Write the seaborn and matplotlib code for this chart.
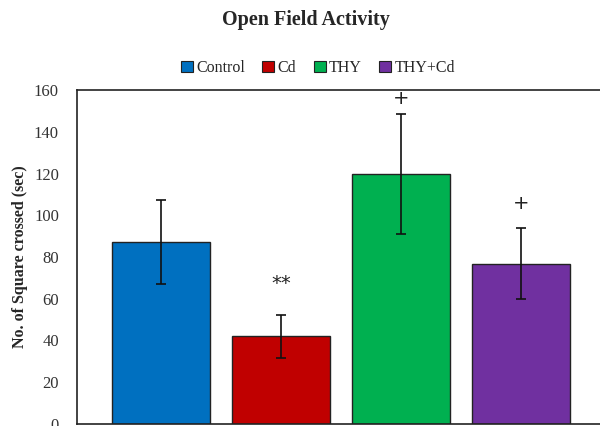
import matplotlib
matplotlib.use("Agg")
import matplotlib.pyplot as plt
import seaborn as sns
import pandas as pd
from matplotlib.patches import Patch

groups = ["Control", "Cd", "THY", "THY+Cd"]
means = [87.3, 42.0, 119.7, 76.8]
errors = [20.0, 10.3, 28.6, 17.0]
marks = ["", "**", "+", "+"]
mark_levels = [None, 67.5, 155.7, 105.4]
colors = ["#0070C0", "#C00000", "#00B050", "#7030A0"]
y_ticks = [0, 20, 40, 60, 80, 100, 120, 140, 160]

sns.set_theme(style="white")
plt.rcParams["font.family"] = ["Liberation Serif", "DejaVu Serif"]

df = pd.DataFrame({"group": groups, "value": means})

fig = plt.figure(figsize=(6.0, 4.26), dpi=100)
ax = fig.add_axes([77 / 600, 2 / 426, (612 - 77) / 600, (424 - 90) / 426])

sns.barplot(data=df, x="group", y="value", hue="group", palette=colors,
            order=groups, hue_order=groups, legend=False, width=0.81,
            edgecolor="#222222", linewidth=1.0, saturation=1, ax=ax)

ax.errorbar(range(len(groups)), means, yerr=errors, fmt="none",
            ecolor="#111111", elinewidth=1.2, capsize=3.5, capthick=1.2)

for i, (m, lvl) in enumerate(zip(marks, mark_levels)):
    if m:
        ax.text(i, lvl, m, ha="center", va="center", fontsize=14,
                color="#222222", family="DejaVu Sans")

ax.set_xlim(-0.7, 3.758)
ax.set_ylim(0, 160)
ax.set_yticks(y_ticks)
ax.set_yticklabels([str(t) for t in y_ticks], fontsize=12, color="#333333")
ax.set_xticks([])
ax.set_xlabel("")
ax.set_ylabel("No. of Square crossed (sec)", fontsize=11.5, fontweight="bold",
              labelpad=4)
ax.tick_params(axis="y", length=0, pad=13)
for s in ax.spines.values():
    s.set_color("#222222")
    s.set_linewidth(1.2)

fig.text(0.51, 0.952, "Open Field Activity", ha="center", va="center",
         fontsize=14.5, fontweight="bold")

handles = [Patch(facecolor=c, edgecolor="#222222", linewidth=0.8, label=g)
           for g, c in zip(groups, colors)]
fig.legend(handles=handles, loc="center", bbox_to_anchor=(0.53, 0.84),
           ncol=4, frameon=False, fontsize=11.5, handlelength=0.75,
           handleheight=0.75, handletextpad=0.2, columnspacing=1.1)

fig.savefig("out.png", dpi=100)
